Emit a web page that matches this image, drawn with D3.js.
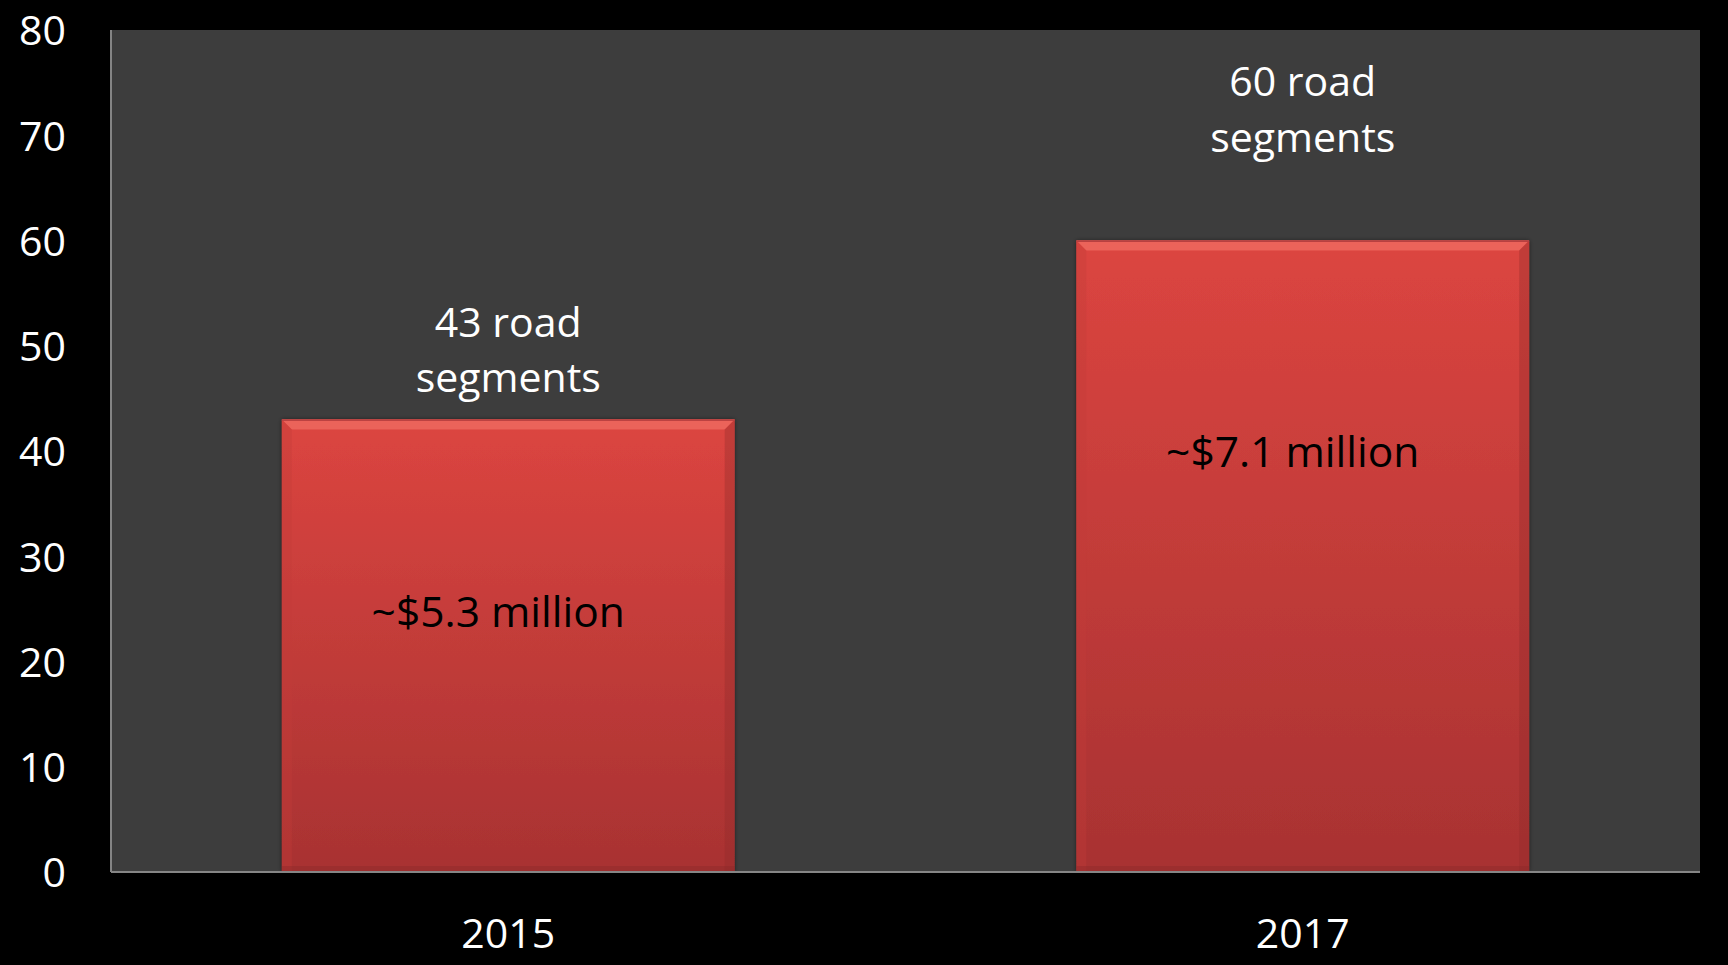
<!DOCTYPE html>
<html><head><meta charset="utf-8">
<script src="https://cdn.jsdelivr.net/npm/d3@7"></script>
<style>html,body{margin:0;padding:0;background:#000;}svg{display:block;}text{font-family:"Open Sans",sans-serif;}</style>
</head><body>
<script>
const categories = ["2015", "2017"];
const values = [43, 60];
const yTicks = [0, 10, 20, 30, 40, 50, 60, 70, 80];
const topLabelLine1 = ["43 road", "60 road"];
const topLabelLine2 = ["segments", "segments"];
const topLabelY1 = [50.8, 73.7];
const topLabelY2 = [45.6, 68.4];
const innerLabels = ["~$5.3 million", "~$7.1 million"];
const innerLabelY = [23.3, 38.5];

const W = 1728, H = 965;
const m = {left: 111, right: 28, top: 30, bottom: 93};
const svg = d3.select("body").append("svg").attr("width", W).attr("height", H);
svg.append("rect").attr("width", W).attr("height", H).attr("fill", "#000");

const x = d3.scaleBand().domain(categories).range([m.left, W - m.right]).paddingInner(0.43).paddingOuter(0.215);
const y = d3.scaleLinear().domain([0, 80]).range([H - m.bottom, m.top]);

const defs = svg.append("defs");
const g1 = defs.append("linearGradient").attr("id", "barGrad").attr("x1", 0).attr("y1", 0).attr("x2", 0).attr("y2", 1);
g1.append("stop").attr("offset", "0%").attr("stop-color", "#dc4540");
g1.append("stop").attr("offset", "100%").attr("stop-color", "#a83232");
const f = defs.append("filter").attr("id", "shadow").attr("x", "-5%").attr("y", "-5%").attr("width", "110%").attr("height", "110%");
f.append("feDropShadow").attr("dx", 0).attr("dy", 0).attr("stdDeviation", 2).attr("flood-color", "#000").attr("flood-opacity", 0.5);

// plot area
svg.append("rect").attr("x", m.left).attr("y", m.top).attr("width", W - m.left - m.right).attr("height", H - m.top - m.bottom).attr("fill", "#3d3d3d");

// bars
const bars = svg.append("g").selectAll("g").data(categories).join("g");
bars.each(function(c, i) {
  const gg = d3.select(this);
  const x0 = x(c), bw = x.bandwidth(), y0 = y(values[i]), y1 = y(0), b = 10;
  gg.append("rect").attr("x", x0).attr("y", y0).attr("width", bw).attr("height", y1 - y0)
    .attr("fill", "url(#barGrad)").attr("filter", "url(#shadow)");
  // top bevel
  gg.append("path").attr("d", `M${x0},${y0}L${x0+bw},${y0}L${x0+bw-b},${y0+b}L${x0+b},${y0+b}Z`).attr("fill", "#ef6a60").attr("opacity", 0.8);
  // left bevel
  gg.append("path").attr("d", `M${x0},${y0}L${x0+b},${y0+b}L${x0+b},${y1}L${x0},${y1}Z`).attr("fill", "#c43c38").attr("opacity", 0.35);
  // right bevel
  gg.append("path").attr("d", `M${x0+bw},${y0}L${x0+bw-b},${y0+b}L${x0+bw-b},${y1}L${x0+bw},${y1}Z`).attr("fill", "#8e2a2a").attr("opacity", 0.35);
  // bottom darkening
  gg.append("rect").attr("x", x0).attr("y", y1 - 6).attr("width", bw).attr("height", 6).attr("fill", "#8a2828").attr("opacity", 0.4);
  gg.append("rect").attr("x", x0).attr("y", y0).attr("width", bw).attr("height", 1.5).attr("fill", "#b84040");
});

// axes lines
svg.append("line").attr("x1", m.left).attr("x2", m.left).attr("y1", m.top).attr("y2", y(0)).attr("stroke", "#858585").attr("stroke-width", 2);
svg.append("line").attr("x1", m.left).attr("x2", W - m.right).attr("y1", y(0)).attr("y2", y(0)).attr("stroke", "#858585").attr("stroke-width", 2);

// y axis
const yAxis = d3.axisLeft(y).tickValues(yTicks).tickSize(0).tickPadding(45);
const ya = svg.append("g").attr("transform", `translate(${m.left},0)`).call(yAxis);
ya.select(".domain").remove();
ya.selectAll("text").attr("fill", "#fff").attr("font-size", 41).attr("font-family", "'Open Sans', sans-serif").attr("dy", "0.36em");

// x axis
const xAxis = d3.axisBottom(x).tickSize(0).tickPadding(47);
const xa = svg.append("g").attr("transform", `translate(0,${y(0)})`).call(xAxis);
xa.select(".domain").remove();
xa.selectAll("text").attr("fill", "#fff").attr("font-size", 41).attr("font-family", "'Open Sans', sans-serif");

// annotations
const ann = svg.append("g").attr("font-size", 41).attr("text-anchor", "middle");
categories.forEach((c, i) => {
  const cx = x(c) + x.bandwidth() / 2;
  ann.append("text").attr("x", cx).attr("y", y(topLabelY1[i])).attr("fill", "#fff").text(topLabelLine1[i]);
  ann.append("text").attr("x", cx).attr("y", y(topLabelY2[i])).attr("fill", "#fff").text(topLabelLine2[i]);
  ann.append("text").attr("x", cx - 10).attr("y", y(innerLabelY[i])).attr("fill", "#000").attr("font-size", 42.5).text(innerLabels[i]);
});
</script>
</body></html>
